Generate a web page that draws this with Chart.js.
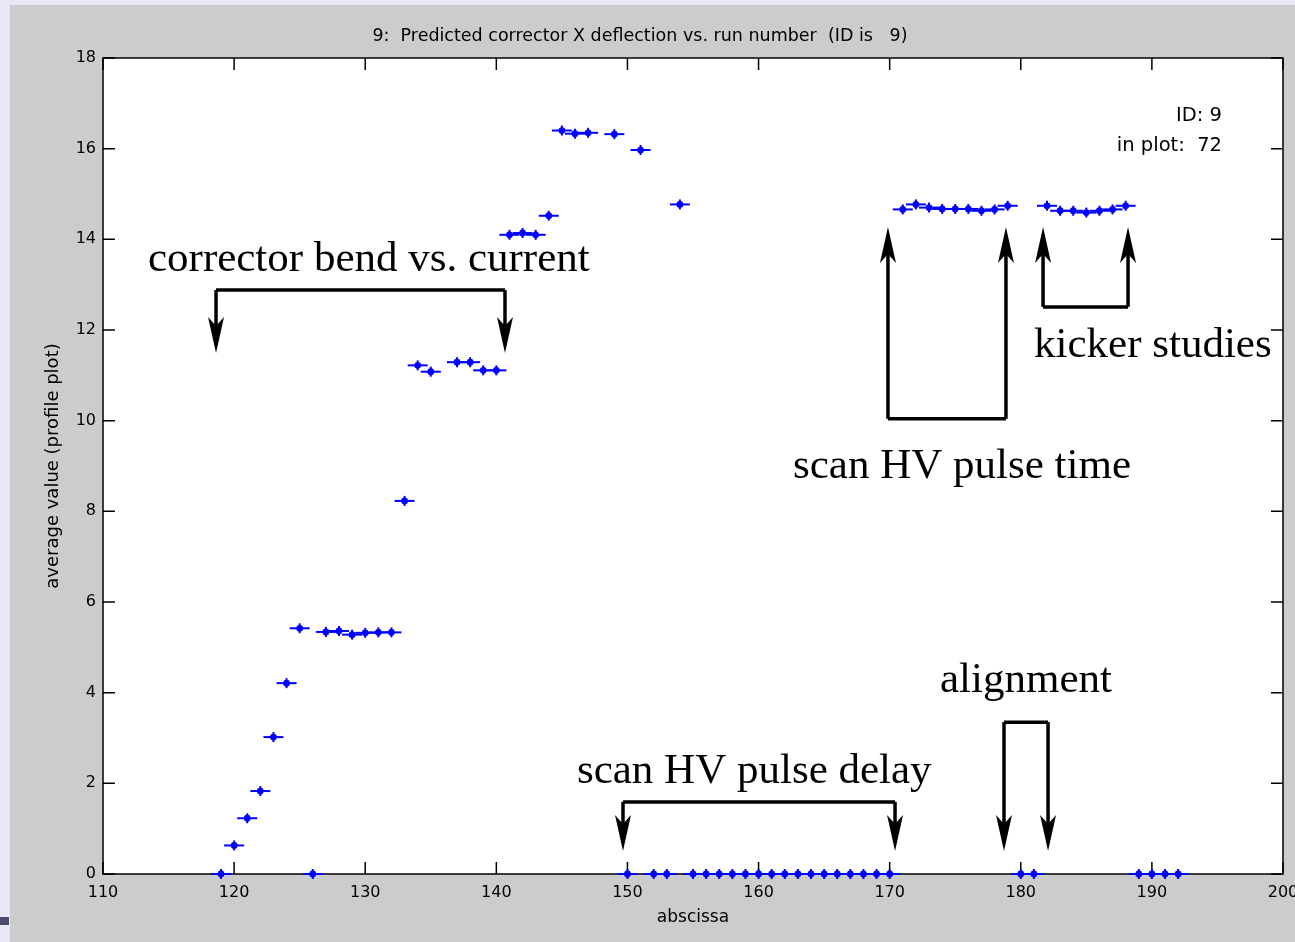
<!DOCTYPE html>
<html>
<head>
<meta charset="utf-8">
<script src="https://cdn.jsdelivr.net/npm/chart.js@4.4.1/dist/chart.umd.min.js"></script>
<style>
  html, body { margin: 0; padding: 0; }
  body { width: 1295px; height: 942px; background: #e8e8f6; position: relative; overflow: hidden; }
  #fig { position: absolute; left: 10px; top: 5px; width: 1285px; height: 937px; background: #cccccc; }
  #strip { position: absolute; left: 0; top: 917px; width: 9px; height: 8px; background: #4a4a6a; }
</style>
</head>
<body>
<div id="strip"></div>
<div id="fig"><canvas id="myChart" width="1285" height="937"></canvas></div>
<script>
// run numbers and the averaged deflection for each run
const runs = [119, 120, 121, 122, 123, 124, 125, 126, 127, 128, 129, 130, 131, 132, 133, 134, 135,
  137, 138, 139, 140, 141, 142, 143, 144, 145, 146, 147, 149, 150, 151, 152, 153, 154,
  155, 156, 157, 158, 159, 160, 161, 162, 163, 164, 165, 166, 167, 168, 169, 170,
  171, 172, 173, 174, 175, 176, 177, 178, 179, 180, 181,
  182, 183, 184, 185, 186, 187, 188, 189, 190, 191, 192];
const deflection = [0, 0.63, 1.23, 1.83, 3.02, 4.21, 5.42, 0, 5.34, 5.36, 5.28, 5.32, 5.33, 5.33, 8.23, 11.22, 11.08,
  11.29, 11.29, 11.11, 11.11, 14.10, 14.14, 14.10, 14.52, 16.40, 16.33, 16.35, 16.32, 0, 15.97, 0, 0, 14.77,
  0, 0, 0, 0, 0, 0, 0, 0, 0, 0, 0, 0, 0, 0, 0, 0,
  14.66, 14.77, 14.70, 14.67, 14.67, 14.67, 14.63, 14.66, 14.74, 0, 0,
  14.74, 14.63, 14.63, 14.59, 14.63, 14.66, 14.74, 0, 0, 0, 0];

const xTicks = [110, 120, 130, 140, 150, 160, 170, 180, 190, 200];
const yTicks = [0, 2, 4, 6, 8, 10, 12, 14, 16, 18];

const titleText = '9:  Predicted corrector X deflection vs. run number  (ID is   9)';
const statLines = ['ID: 9', 'in plot:  72'];

// hand-drawn style labels, placed in data units (run, value)
const notes = [
  { text: 'corrector bend vs. current', x: 113.43, y: 13.30 },
  { text: 'kicker studies', x: 181.01, y: 11.40 },
  { text: 'scan HV pulse time', x: 162.63, y: 8.74 },
  { text: 'alignment', x: 173.84, y: 4.01 },
  { text: 'scan HV pulse delay', x: 146.15, y: 2.01 }
];
// brackets: two arrow columns joined by a bar at barY, heads at tipY
const brackets = [
  { x1: 118.62, x2: 140.66, barY: 12.88, tipY: 11.49 },
  { x1: 169.87, x2: 178.87, barY: 10.04, tipY: 14.27 },
  { x1: 181.70, x2: 188.18, barY: 12.51, tipY: 14.27 },
  { x1: 149.66, x2: 170.41, barY: 1.59, tipY: 0.51 },
  { x1: 178.72, x2: 182.08, barY: 3.35, tipY: 0.51 }
];

const points = runs.map((r, i) => ({ x: r, y: deflection[i] }));
const sans = '"DejaVu Sans", Verdana, sans-serif';

function drawArrow(ctx, x, yFrom, yTip) {
  const dir = yTip > yFrom ? 1 : -1;
  const len = 36, half = 8, notch = 9;
  ctx.beginPath();
  ctx.moveTo(x, yFrom);
  ctx.lineTo(x, yTip - dir * (len - notch));
  ctx.stroke();
  ctx.beginPath();
  ctx.moveTo(x, yTip);
  ctx.lineTo(x - half, yTip - dir * len);
  ctx.lineTo(x, yTip - dir * (len - notch));
  ctx.lineTo(x + half, yTip - dir * len);
  ctx.closePath();
  ctx.fill();
}

const framePlugin = {
  id: 'frame',
  beforeDraw(chart) {
    const { ctx, chartArea: a } = chart;
    ctx.save();
    ctx.fillStyle = '#ffffff';
    ctx.fillRect(a.left, a.top, a.right - a.left, a.bottom - a.top);
    ctx.restore();
  },
  beforeDatasetsDraw(chart) {
    const { ctx, chartArea: a, scales } = chart;
    ctx.save();
    ctx.strokeStyle = '#000';
    ctx.lineWidth = 1.5;
    ctx.strokeRect(a.left, a.top, a.right - a.left, a.bottom - a.top);
    const tl = 12;
    ctx.beginPath();
    xTicks.forEach(v => {
      const px = scales.x.getPixelForValue(v);
      ctx.moveTo(px, a.bottom); ctx.lineTo(px, a.bottom - tl);
      ctx.moveTo(px, a.top); ctx.lineTo(px, a.top + tl);
    });
    yTicks.forEach(v => {
      const py = scales.y.getPixelForValue(v);
      ctx.moveTo(a.left, py); ctx.lineTo(a.left + tl, py);
      ctx.moveTo(a.right, py); ctx.lineTo(a.right - tl, py);
    });
    ctx.stroke();

    ctx.fillStyle = '#000';
    ctx.font = '17.5px ' + sans;
    ctx.textAlign = 'center';
    ctx.textBaseline = 'alphabetic';
    ctx.fillText(titleText, 630, 36);

    ctx.font = '19.5px ' + sans;
    ctx.textAlign = 'right';
    ctx.fillText(statLines[0], 1212, 116);
    ctx.fillText(statLines[1], 1212, 146);
    ctx.restore();
  },
  afterDatasetsDraw(chart) {
    const { ctx, scales } = chart;
    const X = v => scales.x.getPixelForValue(v);
    const Y = v => scales.y.getPixelForValue(v);
    ctx.save();
    ctx.strokeStyle = '#000';
    ctx.fillStyle = '#000';
    ctx.lineWidth = 3.5;
    ctx.lineJoin = 'miter';
    brackets.forEach(b => {
      const x1 = X(b.x1), x2 = X(b.x2), yb = Y(b.barY), yt = Y(b.tipY);
      ctx.beginPath();
      ctx.moveTo(x1, yb); ctx.lineTo(x2, yb);
      ctx.stroke();
      drawArrow(ctx, x1, yb, yt);
      drawArrow(ctx, x2, yb, yt);
    });
    ctx.font = '43px "Liberation Serif", "Times New Roman", serif';
    ctx.textAlign = 'left';
    ctx.textBaseline = 'alphabetic';
    notes.forEach(n => ctx.fillText(n.text, X(n.x), Y(n.y)));
    ctx.restore();
  }
};

const ctx = document.getElementById('myChart');
new Chart(ctx, {
  type: 'scatter',
  data: {
    datasets: [
      { // horizontal bin bars
        data: points, pointStyle: 'line', pointRadius: 10, borderColor: '#0000ff',
        borderWidth: 2, backgroundColor: '#0000ff', clip: false
      },
      { // short vertical stroke of the marker
        data: points, pointStyle: 'line', rotation: 90, pointRadius: 5, borderColor: '#0000ff',
        borderWidth: 2, backgroundColor: '#0000ff', clip: false
      },
      { // marker dot
        data: points, pointStyle: 'circle', pointRadius: 3.4, borderColor: '#0000ff',
        borderWidth: 0, backgroundColor: '#0000ff', clip: false
      }
    ]
  },
  options: {
    responsive: false,
    animation: false,
    events: [],
    layout: { autoPadding: false, padding: { top: 53, right: 12, left: 0, bottom: 0 } },
    plugins: { legend: { display: false }, tooltip: { enabled: false }, title: { display: false } },
    scales: {
      x: {
        type: 'linear', min: 110, max: 200,
        afterFit(scale) { scale.height = 68; scale.paddingLeft = 0; scale.paddingRight = 0; },
        afterBuildTicks(scale) { scale.ticks = xTicks.map(v => ({ value: v })); },
        grid: { display: false, drawTicks: false },
        border: { display: false },
        ticks: { color: '#000', padding: 9, maxRotation: 0, font: { size: 16, family: sans } },
        title: { display: true, text: 'abscissa', color: '#000', padding: { bottom: 14, top: 0 },
          font: { size: 17, family: sans } }
      },
      y: {
        type: 'linear', min: 0, max: 18,
        afterFit(scale) { scale.width = 93; scale.paddingTop = 0; scale.paddingBottom = 0; },
        afterBuildTicks(scale) { scale.ticks = yTicks.map(v => ({ value: v })); },
        grid: { display: false, drawTicks: false },
        border: { display: false },
        ticks: { color: '#000', padding: 7, font: { size: 16, family: sans } },
        title: { display: true, text: 'average value (profile plot)', color: '#000', padding: { top: 33, bottom: 0 },
          font: { size: 18, family: sans } }
      }
    }
  },
  plugins: [framePlugin]
});
</script>
</body>
</html>
